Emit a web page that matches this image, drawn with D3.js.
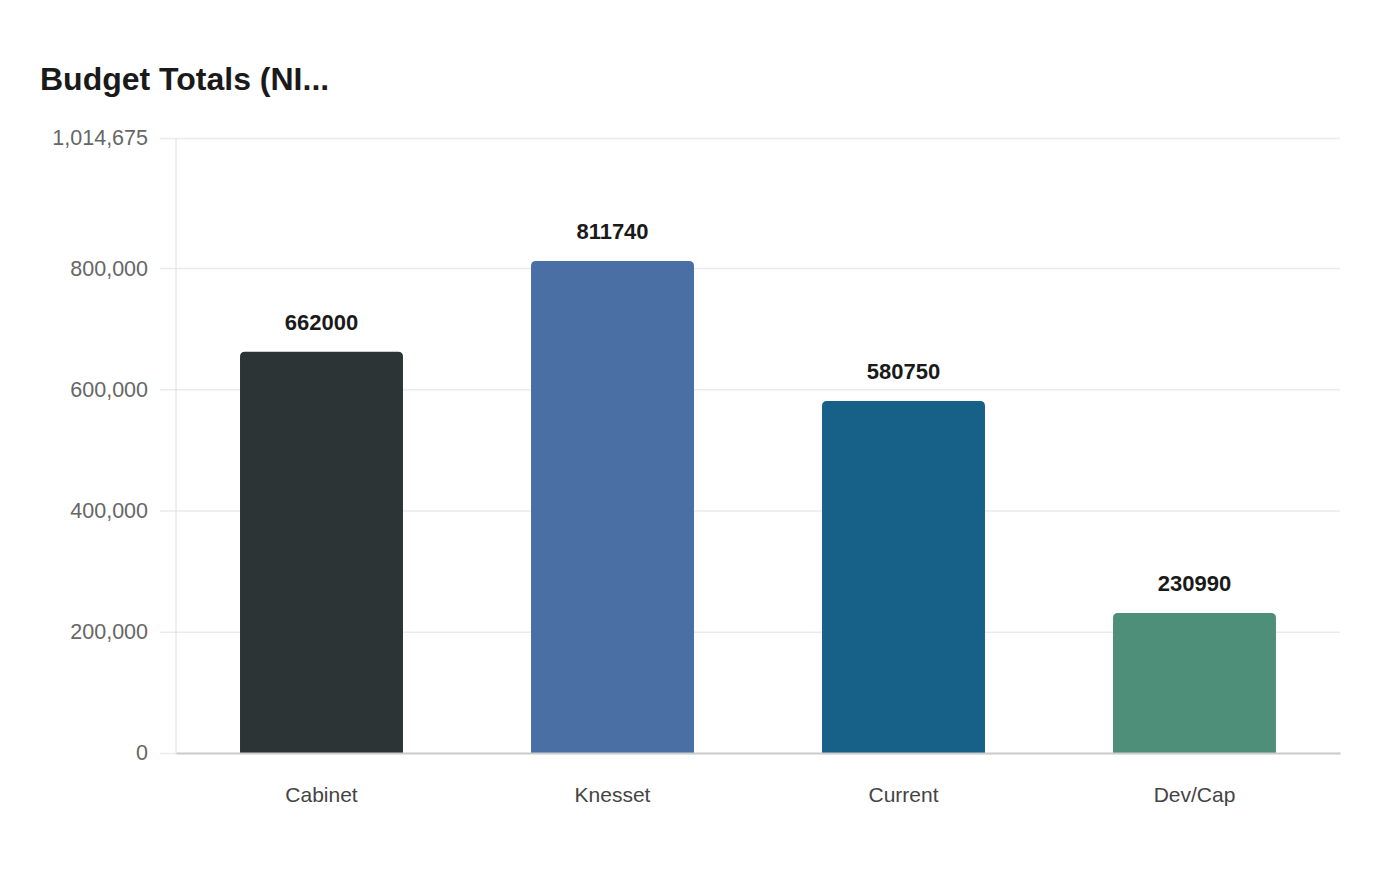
<!DOCTYPE html>
<html>
<head>
<meta charset="utf-8">
<script src="https://cdn.jsdelivr.net/npm/d3@7"></script>
<style>
  body { margin: 0; background: #fff; font-family: "Liberation Sans", Arial, sans-serif; }
</style>
</head>
<body>
<div id="chart"></div>
<script>
// data
var categories = ["Cabinet", "Knesset", "Current", "Dev/Cap"];
var values = [662000, 811740, 580750, 230990];
var barColors = ["#2d3436", "#4a6fa5", "#176087", "#4e8f7a"];
var yMax = 1014675;
var yTicks = [0, 200000, 400000, 600000, 800000, 1014675];

var width = 1400, height = 880;
var margin = { top: 138, right: 60, bottom: 127, left: 176 };
var innerW = width - margin.left - margin.right;
var innerH = height - margin.top - margin.bottom;

var svg = d3.select("#chart").append("svg")
    .attr("width", width)
    .attr("height", height);

svg.append("text")
    .attr("x", 40)
    .attr("y", 90)
    .attr("font-size", 32)
    .attr("font-weight", "bold")
    .attr("fill", "#1a1a1a")
    .text("Budget Totals (NI...");

var g = svg.append("g")
    .attr("transform", "translate(" + margin.left + "," + margin.top + ")");

var x = d3.scaleBand()
    .domain(categories)
    .range([0, innerW])
    .paddingInner(0.44)
    .paddingOuter(0.22);

var y = d3.scaleLinear()
    .domain([0, yMax])
    .range([innerH, 0]);

// grid + y labels
var yAxis = g.append("g")
    .call(d3.axisLeft(y).tickValues(yTicks).tickSize(-innerW - 16).tickPadding(12)
        .tickFormat(d3.format(",")));
yAxis.select(".domain").remove();
yAxis.selectAll(".tick line")
    .attr("x1", -16)
    .attr("x2", innerW)
    .attr("stroke", "#ebebeb")
    .attr("stroke-width", 1.5);
yAxis.selectAll(".tick text")
    .attr("x", -28)
    .attr("font-size", 21.5)
    .attr("font-family", "Liberation Sans, Arial, sans-serif")
    .attr("fill", "#666");

// y axis line
g.append("line")
    .attr("x1", 0).attr("x2", 0)
    .attr("y1", 0).attr("y2", innerH)
    .attr("stroke", "#e0e0e0")
    .attr("stroke-width", 1);

// bars with rounded top corners
var r = 5;
g.selectAll(".bar")
    .data(values)
    .enter().append("path")
    .attr("class", "bar")
    .attr("fill", function(d, i) { return barColors[i]; })
    .attr("d", function(d, i) {
        var x0 = x(categories[i]), w = x.bandwidth();
        var y0 = y(d), y1 = y(0);
        return "M" + x0 + "," + y1 +
            "V" + (y0 + r) +
            "Q" + x0 + "," + y0 + " " + (x0 + r) + "," + y0 +
            "H" + (x0 + w - r) +
            "Q" + (x0 + w) + "," + y0 + " " + (x0 + w) + "," + (y0 + r) +
            "V" + y1 + "Z";
    });

// value labels
g.selectAll(".val")
    .data(values)
    .enter().append("text")
    .attr("class", "val")
    .attr("x", function(d, i) { return x(categories[i]) + x.bandwidth() / 2; })
    .attr("y", function(d) { return y(d) - 22; })
    .attr("text-anchor", "middle")
    .attr("font-size", 22)
    .attr("font-weight", "bold")
    .attr("fill", "#1a1a1a")
    .text(function(d) { return d; });

// x axis
var xAxis = g.append("g")
    .attr("transform", "translate(0," + innerH + ")")
    .call(d3.axisBottom(x).tickSize(0).tickPadding(34));
xAxis.select(".domain")
    .attr("stroke", "#cccccc")
    .attr("stroke-width", 2);
xAxis.selectAll(".tick text")
    .attr("font-size", 21)
    .attr("font-family", "Liberation Sans, Arial, sans-serif")
    .attr("fill", "#444");
</script>
</body>
</html>
